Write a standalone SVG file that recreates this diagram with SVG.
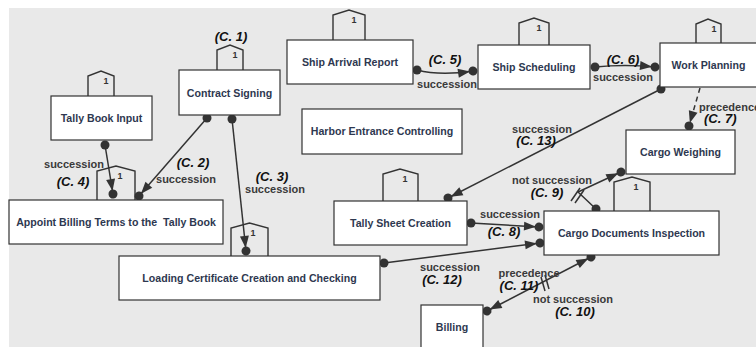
<svg xmlns="http://www.w3.org/2000/svg" width="756" height="347" viewBox="0 0 756 347">
<style>
.bg{fill:#e9e9e9}
.box{fill:#ffffff;stroke:#333333;stroke-width:1.2}
.tok{fill:none;stroke:#333333;stroke-width:1.4}
.nt{font-family:"Liberation Sans",Arial,sans-serif;font-weight:bold;font-size:10.6px;fill:#2e3850;text-anchor:middle}
.one{font-family:"Liberation Sans",Arial,sans-serif;font-weight:bold;font-size:9px;fill:#333333;text-anchor:middle}
.ln{fill:none;stroke:#333333;stroke-width:1.5}
.dash{stroke-dasharray:5,4}
.lb{font-family:"Liberation Sans",Arial,sans-serif;font-weight:bold;font-size:11px;fill:#3a3a3a;text-anchor:middle}
.cl{font-family:"Liberation Sans",Arial,sans-serif;font-weight:bold;font-style:italic;font-size:13px;fill:#111111;text-anchor:middle}
.st{text-anchor:start}
</style>
<defs>
<marker id="ad" markerUnits="userSpaceOnUse" markerWidth="24" markerHeight="14" viewBox="-18 -7 24 14" refX="0" refY="0" orient="auto-start-reverse" overflow="visible">
<path d="M-15,-4.5 L-3,0 L-15,4.5 z" fill="#333333"/>
<circle r="4.5" fill="#333333"/>
</marker>
<marker id="d" markerUnits="userSpaceOnUse" markerWidth="10" markerHeight="10" viewBox="-5 -5 10 10" refX="0" refY="0" overflow="visible">
<circle r="4.5" fill="#333333"/>
</marker>
</defs>
<rect x="0" y="0" width="756" height="347" fill="#ffffff"/>
<rect class="bg" x="9" y="8" width="747" height="339"/>

<g id="connectors">
<path id="c2" class="ln" d="M207,118 L139,196" marker-start="url(#d)" marker-end="url(#ad)"/>
<path id="c3" class="ln" d="M232,119 L246,251" marker-start="url(#d)" marker-end="url(#ad)"/>
<path id="c4" class="ln" d="M105,145 L113,194" marker-start="url(#d)" marker-end="url(#ad)"/>
<path id="c5" class="ln" d="M417,70 Q440,76 473,71" marker-start="url(#d)" marker-end="url(#ad)"/>
<path id="c6" class="ln" d="M595,67 Q625,64 655,67" marker-start="url(#d)" marker-end="url(#ad)"/>
<path id="c7" class="ln dash" d="M700,88 L689,126" marker-end="url(#ad)"/>
<path id="c8" class="ln" d="M471,223 L539,227" marker-start="url(#d)" marker-end="url(#ad)"/>
<path id="c9" class="ln" d="M596,209 L578,192 L621,172" marker-start="url(#d)" marker-end="url(#ad)"/>
<line class="ln" x1="571" y1="201" x2="580" y2="188"/>
<line class="ln" x1="575" y1="203" x2="584" y2="190"/>
<path id="c10" class="ln" d="M487,311 L591,257" marker-start="url(#ad)" marker-end="url(#ad)"/>
<line class="ln" x1="541" y1="277" x2="545" y2="291"/>
<line class="ln" x1="545" y1="275" x2="549" y2="289"/>
<path id="c12" class="ln" d="M384,263 L540,243" marker-start="url(#d)" marker-end="url(#ad)"/>
<path id="c13" class="ln" d="M661,89 L448,198" marker-start="url(#d)" marker-end="url(#ad)"/>

<text class="cl" x="231" y="41">(C. 1)</text>
<text class="lb" x="74" y="168">succession</text>
<text class="cl" x="73" y="186">(C. 4)</text>
<text class="cl" x="193" y="167">(C. 2)</text>
<text class="lb" x="186" y="183">succession</text>
<text class="cl" x="272" y="181">(C. 3)</text>
<text class="lb" x="275" y="193">succession</text>
<text class="cl" x="445" y="64">(C. 5)</text>
<text class="lb" x="447" y="88">succession</text>
<text class="cl" x="623" y="64">(C. 6)</text>
<text class="lb" x="623" y="81">succession</text>
<text class="lb st" x="699" y="111">precedence</text>
<text class="cl st" x="704" y="123">(C. 7)</text>
<text class="lb" x="542" y="133">succession</text>
<text class="cl" x="536" y="145">(C. 13)</text>
<text class="lb" x="552" y="184">not succession</text>
<text class="cl" x="547" y="197">(C. 9)</text>
<text class="lb" x="510" y="218">succession</text>
<text class="cl" x="504" y="236">(C. 8)</text>
<text class="lb" x="450" y="271">succession</text>
<text class="cl" x="442" y="284">(C. 12)</text>
<text class="lb" x="529" y="277">precedence</text>
<text class="cl" x="519" y="290">(C. 11)</text>
<text class="lb" x="573" y="303">not succession</text>
<text class="cl" x="575" y="316">(C. 10)</text>
</g>

<g id="tally-book-input">
<polyline class="tok" points="88,96 88,76 101,71 114,76 114,96"/>
<text class="one" x="106" y="84">1</text>
<rect class="box" x="51" y="96" width="101" height="44"/>
<text class="nt" x="101.5" y="122">Tally Book Input</text>
</g>
<g id="contract-signing">
<polyline class="tok" points="217,70 217,50 230,45 243,50 243,70"/>
<text class="one" x="235" y="58">1</text>
<rect class="box" x="179" y="70" width="101" height="45"/>
<text class="nt" x="229.5" y="97">Contract Signing</text>
</g>
<g id="ship-arrival-report">
<polyline class="tok" points="333,40 333,15 349,10 365,15 365,40"/>
<text class="one" x="354" y="23">1</text>
<rect class="box" x="287" y="40" width="126" height="44"/>
<text class="nt" x="350" y="66">Ship Arrival Report</text>
</g>
<g id="ship-scheduling">
<polyline class="tok" points="519,45 519,23 534,18 549,23 549,45"/>
<text class="one" x="539" y="31">1</text>
<rect class="box" x="478" y="45" width="112" height="44"/>
<text class="nt" x="534" y="71">Ship Scheduling</text>
</g>
<g id="work-planning">
<polyline class="tok" points="696,43 696,24 708,19 721,24 721,43"/>
<text class="one" x="714" y="32">1</text>
<rect class="box" x="660" y="43" width="97" height="44"/>
<text class="nt" x="708.5" y="69">Work Planning</text>
</g>
<g id="harbor-entrance-controlling">
<rect class="box" x="302" y="109" width="160" height="45"/>
<text class="nt" x="382" y="135">Harbor Entrance Controlling</text>
</g>
<g id="cargo-weighing">
<rect class="box" x="626" y="130" width="109" height="44"/>
<text class="nt" x="680.5" y="156">Cargo Weighing</text>
</g>
<g id="appoint-billing-terms">
<polyline class="tok" points="97,200 97,171 116,166 135,171 135,200"/>
<text class="one" x="120" y="179">1</text>
<rect class="box" x="9" y="200" width="214" height="44"/>
<text class="nt" x="116" y="226" xml:space="preserve">Appoint Billing Terms to the  Tally Book</text>
</g>
<g id="tally-sheet-creation">
<polyline class="tok" points="383,201 383,174 400,169 418,174 418,201"/>
<text class="one" x="405" y="182">1</text>
<rect class="box" x="334" y="201" width="133" height="44"/>
<text class="nt" x="400.5" y="227">Tally Sheet Creation</text>
</g>
<g id="cargo-documents-inspection">
<polyline class="tok" points="614,211 614,182 632,177 650,182 650,211"/>
<text class="one" x="636" y="190">1</text>
<rect class="box" x="544" y="211" width="175" height="44"/>
<text class="nt" x="631.5" y="237">Cargo Documents Inspection</text>
</g>
<g id="loading-certificate">
<polyline class="tok" points="231,256 231,228 249.5,223 268,228 268,256"/>
<text class="one" x="253" y="236">1</text>
<rect class="box" x="119" y="256" width="261" height="44"/>
<text class="nt" x="249.5" y="282">Loading Certificate Creation and Checking</text>
</g>
<g id="billing">
<rect class="box" x="421" y="305" width="62" height="45"/>
<text class="nt" x="452" y="331">Billing</text>
</g>
</svg>
